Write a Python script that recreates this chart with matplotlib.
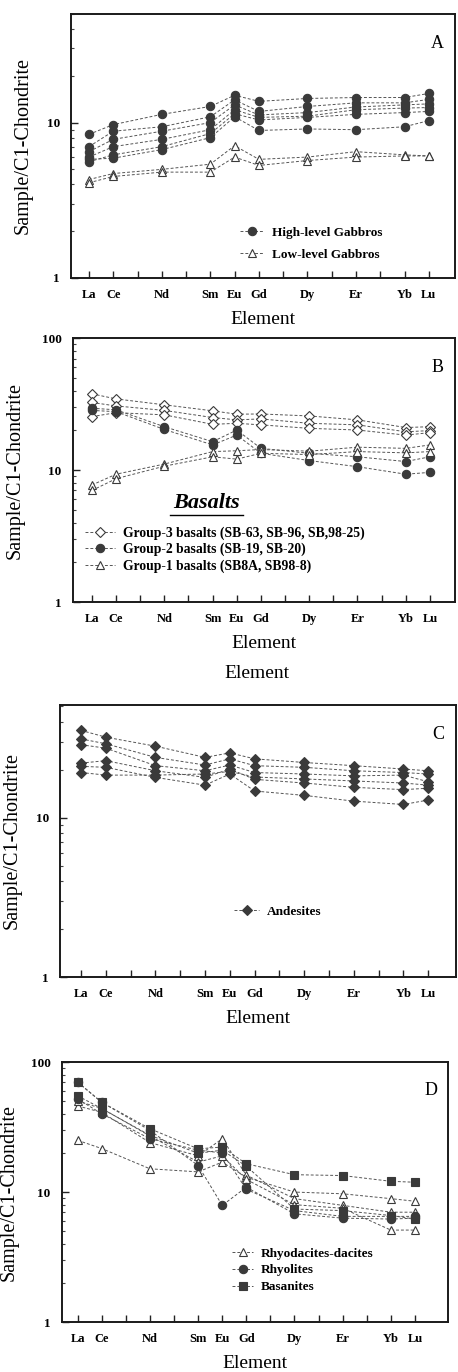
"""Chondrite-normalised REE patterns, four stacked panels (A-D)."""

import matplotlib
matplotlib.use("Agg")
import matplotlib.pyplot as plt
from matplotlib.ticker import LogLocator, NullFormatter, FixedLocator
from matplotlib.lines import Line2D

plt.rcParams["font.family"] = ["Liberation Serif", "DejaVu Serif"]

# x axis: all 15 REE get a tick, only some are labelled / sampled
all_elements = ["La", "Ce", "Pr", "Nd", "Pm", "Sm", "Eu", "Gd", "Tb", "Dy",
                "Ho", "Er", "Tm", "Yb", "Lu"]
elements = ["La", "Ce", "Nd", "Sm", "Eu", "Gd", "Dy", "Er", "Yb", "Lu"]

# Panel A - gabbros
high_gabbros = [
    [8.4, 9.7, 11.3, 12.7, 15.0, 13.7, 14.3, 14.5, 14.5, 15.4],
    [7.0, 8.8, 9.4, 10.9, 14.0, 11.8, 12.7, 13.4, 13.4, 14.1],
    [6.5, 7.8, 8.8, 10.0, 13.0, 11.2, 11.6, 12.6, 13.0, 13.2],
    [6.0, 7.0, 7.8, 9.0, 12.1, 10.8, 11.0, 12.1, 12.4, 12.5],
    [5.6, 6.2, 7.0, 8.5, 11.4, 10.4, 10.8, 11.3, 11.6, 11.8],
    [5.8, 5.9, 6.7, 8.0, 10.9, 8.9, 9.1, 9.0, 9.4, 10.3],
]
low_gabbros = [
    [4.3, 4.7, 5.0, 5.4, 7.1, 5.8, 6.0, 6.5, 6.2, 6.1],
    [4.1, 4.5, 4.8, 4.8, 6.0, 5.3, 5.7, 6.0, 6.1, 6.1],
]

# Panel B - basalts
group3 = [
    [37.8, 34.6, 31.2, 28.1, 26.5, 26.6, 25.7, 24.0, 21.0, 21.3],
    [32.5, 30.6, 28.3, 25.0, 24.0, 24.4, 22.6, 22.0, 19.5, 19.9],
    [25.4, 27.2, 26.2, 22.2, 22.6, 22.0, 20.7, 20.1, 18.4, 19.2],
]
group2 = [
    [29.4, 28.6, 21.3, 16.4, 20.1, 14.6, 13.4, 12.6, 11.6, 12.6],
    [28.3, 27.7, 20.3, 15.5, 18.4, 13.4, 11.8, 10.6, 9.3, 9.6],
]
group1 = [
    [7.7, 9.3, 11.1, 13.8, 14.0, 14.3, 13.9, 14.9, 14.6, 15.5],
    [7.0, 8.6, 10.7, 12.6, 12.1, 13.4, 13.1, 13.8, 13.5, 13.8],
]

# Panel C - andesites
andesites = [
    [35.3, 32.0, 28.1, 23.9, 25.5, 23.4, 22.2, 21.2, 20.2, 19.7],
    [31.2, 29.1, 23.9, 21.4, 23.4, 21.2, 20.7, 19.7, 19.2, 18.8],
    [28.7, 27.3, 21.2, 19.7, 21.4, 19.2, 18.8, 18.3, 18.5, 16.8],
    [22.0, 22.8, 19.7, 17.9, 20.2, 17.4, 16.5, 15.5, 15.0, 15.3],
    [21.0, 20.7, 17.9, 16.0, 18.8, 14.7, 13.8, 12.7, 12.1, 12.9],
    [19.2, 18.5, 18.5, 18.8, 19.5, 18.0, 17.5, 17.0, 16.5, 16.0],
]

# Panel D - felsic rocks and basanites
rhyodacites = [
    [25.0, 21.6, 15.1, 14.3, 17.0, 13.0, 10.0, 9.7, 8.9, 8.5],
    [46.0, 41.0, 24.0, 19.0, 25.7, 13.5, 8.9, 7.9, 7.0, 7.0],
    [50.0, 44.0, 27.0, 17.0, 19.0, 12.5, 8.0, 7.5, 5.1, 5.1],
]
rhyolites = [
    [70.0, 49.0, 29.8, 16.0, 7.9, 10.9, 6.8, 6.3, 6.2, 6.3],
    [52.0, 40.0, 25.7, 21.0, 20.0, 10.5, 7.2, 6.5, 6.5, 6.5],
]
basanites = [
    [70.0, 49.0, 30.7, 21.5, 22.2, 16.5, 13.6, 13.4, 12.1, 11.9],
    [55.0, 43.8, 27.3, 19.9, 21.0, 15.8, 7.4, 7.2, 6.6, 6.2],
]

DARK = "#3a3a3a"
LINE = "#555555"
xpos = [all_elements.index(e) + 1 for e in elements]


def style_axes(ax, xlim, ylim, letter, yticks, ylabel_x):
    ax.set_yscale("log")
    ax.set_xlim(*xlim)
    ax.set_ylim(*ylim)
    ax.xaxis.set_major_locator(FixedLocator(range(1, 16)))
    ax.set_xticklabels([e if e in elements else "" for e in all_elements],
                       fontsize=9, fontweight="bold")
    ax.yaxis.set_major_locator(FixedLocator(yticks))
    ax.set_yticklabels([str(t) for t in yticks], fontsize=9.5, fontweight="bold")
    ax.yaxis.set_minor_locator(LogLocator(base=10, subs=range(2, 10)))
    ax.yaxis.set_minor_formatter(NullFormatter())
    ax.tick_params(axis="both", which="major", direction="in", length=5,
                   width=1, pad=8, color="#222222")
    ax.tick_params(axis="y", which="minor", direction="in", length=2.5,
                   width=0.8, color="#444444")
    for s in ax.spines.values():
        s.set_linewidth(1.4)
        s.set_color("#1a1a1a")
    ax.set_xlabel("Element", fontsize=14, labelpad=7)
    ax.set_ylabel("Sample/C1-Chondrite", fontsize=14.5)
    ax.yaxis.set_label_coords(ylabel_x, 0.5)
    ax.text(0.955, 0.89, letter, transform=ax.transAxes, fontsize=13,
            ha="center", va="center")


def draw_series(ax, series, marker, filled, ms=6):
    for vals in series:
        ax.plot(xpos, vals, linestyle=(0, (3, 2)), color=LINE, linewidth=0.7,
                marker=marker, markersize=ms,
                markerfacecolor=DARK if filled else "white",
                markeredgecolor=DARK, markeredgewidth=0.8)


def legend_handle(marker, filled, ms=6):
    return Line2D([0], [0], linestyle=(0, (3, 2)), color=LINE, linewidth=0.7,
                  marker=marker, markersize=ms,
                  markerfacecolor=DARK if filled else "white",
                  markeredgecolor=DARK, markeredgewidth=0.8)


fig = plt.figure(figsize=(4.58, 13.72), dpi=100)

# ---- A
axA = fig.add_axes([0.155, 0.7974, 0.838, 0.1924])
draw_series(axA, high_gabbros, "o", True)
draw_series(axA, low_gabbros, "^", False)
style_axes(axA, (0.26, 16.07), (1, 50), "A", [1, 10], -0.099)
axA.legend([legend_handle("o", True), legend_handle("^", False)],
           ["High-level Gabbros", "Low-level Gabbros"],
           loc="lower left", bbox_to_anchor=(0.41, 0.02), frameon=False,
           prop={"weight": "bold", "size": 9.5}, handlelength=1.8,
           handletextpad=0.6, labelspacing=0.75)

# ---- B
axB = fig.add_axes([0.159, 0.5612, 0.834, 0.1924])
draw_series(axB, group3, "D", False, ms=5.5)
draw_series(axB, group2, "o", True)
draw_series(axB, group1, "^", False)
style_axes(axB, (0.21, 16.03), (1, 100), "B", [1, 10, 100], -0.126)
axB.text(0.35, 0.375, "Basalts", transform=axB.transAxes, fontsize=16,
         fontstyle="italic", fontweight="bold", ha="center", va="center")
axB.plot([0.255, 0.445], [0.33, 0.33], transform=axB.transAxes,
         color="black", linewidth=1.0)
axB.legend([legend_handle("D", False, ms=5.5), legend_handle("o", True),
            legend_handle("^", False)],
           ["Group-3 basalts (SB-63, SB-96, SB,98-25)",
            "Group-2 basalts (SB-19, SB-20)",
            "Group-1 basalts (SB8A, SB98-8)"],
           loc="lower left", bbox_to_anchor=(0.0, 0.065), frameon=False,
           prop={"weight": "bold", "size": 9.8}, handlelength=2.2,
           handletextpad=0.6, labelspacing=0.22)

# ---- C
axC = fig.add_axes([0.131, 0.2879, 0.865, 0.1983])
draw_series(axC, andesites, "D", True, ms=5)
style_axes(axC, (0.15, 16.13), (1, 51), "C", [1, 10], -0.096)
axC.legend([legend_handle("D", True, ms=5)], ["Andesites"],
           loc="center left", bbox_to_anchor=(0.41, 0.24), frameon=False,
           prop={"weight": "bold", "size": 9.5}, handlelength=1.9,
           handletextpad=0.6)
# stray duplicate axis title between panels B and C
fig.text(0.56, 1 - 673 / 1372, "Element", fontsize=14, ha="center",
         va="center")

# ---- D
axD = fig.add_axes([0.135, 0.0364, 0.843, 0.1895])
draw_series(axD, rhyodacites, "^", False)
draw_series(axD, rhyolites, "o", True)
draw_series(axD, basanites, "s", True, ms=5.5)
style_axes(axD, (0.34, 16.37), (1, 100), "D", [1, 10, 100], -0.111)
axD.legend([legend_handle("^", False), legend_handle("o", True),
            legend_handle("s", True, ms=5.5)],
           ["Rhyodacites-dacites", "Rhyolites", "Basanites"],
           loc="lower left", bbox_to_anchor=(0.41, 0.065), frameon=False,
           prop={"weight": "bold", "size": 9.5}, handlelength=1.6,
           handletextpad=0.6, labelspacing=0.35)

fig.savefig("out.png", dpi=100)
